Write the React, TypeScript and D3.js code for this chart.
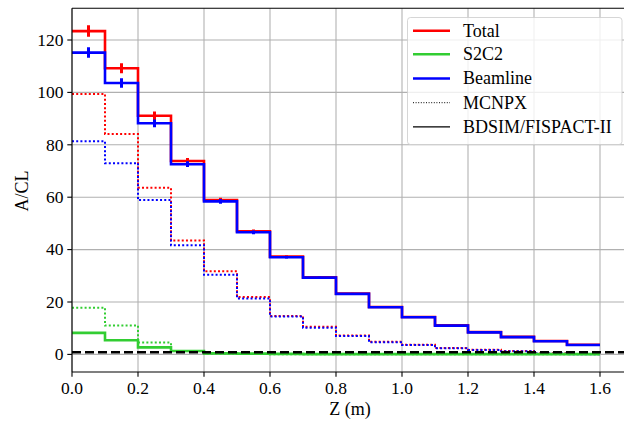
import React from "react";
import * as d3 from "d3";

const binEdges = [0, 0.1, 0.2, 0.3, 0.4, 0.5, 0.6, 0.7, 0.8, 0.9, 1.0, 1.1, 1.2, 1.3, 1.4, 1.5, 1.6];

const totalBD = [123.4, 109.2, 91.1, 73.8, 58.9, 47.0, 37.3, 29.4, 23.2, 18.1, 14.3, 11.1, 8.5, 6.7, 5.1, 3.7];
const beamBD = [115.2, 103.6, 88.2, 72.6, 58.4, 46.6, 37.1, 29.3, 23.1, 18.0, 14.2, 11.0, 8.4, 6.6, 5.0, 3.6];
const s2c2BD = [8.2, 5.4, 2.7, 1.3, 0.4, 0.3, 0.2, 0.1, 0.1, 0.1, 0.1, 0.1, 0.1, 0.1, 0.1, 0.1];

const totalErr = [2.2, 1.9, 1.6, 1.2, 0.9, 0.7, 0.5, 0.4, 0.3, 0.3, 0.2, 0.2, 0.2, 0.1, 0.1, 0.1];
const beamErr = [2.0, 1.8, 1.5, 1.1, 0.9, 0.7, 0.5, 0.4, 0.3, 0.3, 0.2, 0.2, 0.2, 0.1, 0.1, 0.1];

const totalMC = [99.4, 84.1, 63.6, 43.5, 31.7, 21.9, 14.7, 10.6, 7.2, 4.8, 3.7, 2.4, 1.8, 1.3, 0.4, 0.2];
const beamMC = [81.4, 73.0, 58.9, 41.7, 30.4, 21.3, 14.5, 10.2, 7.0, 4.6, 3.6, 2.3, 1.7, 1.2, 0.3, 0.1];
const s2c2MC = [17.8, 11.0, 4.5, 1.3, 0.3, 0.2, 0.1, 0.1, 0.1, 0.05, 0.05, 0.05, 0.05, 0.05, 0.05, 0.05];

const limitLevel = 0.8;

const xTicks = [0, 0.2, 0.4, 0.6, 0.8, 1.0, 1.2, 1.4, 1.6];
const yTicks = [0, 20, 40, 60, 80, 100, 120];

const legendLabels = ["Total", "S2C2", "Beamline", "MCNPX", "BDSIM/FISPACT-II"];

const RED = "#ff0000";
const GREEN = "#32cd32";
const BLUE = "#0000ff";
const FONT = "Liberation Serif";

export default function App() {
  const W = 624, H = 425;
  const left = 72, right = 626.4, top = 8.3, bottom = 372;
  const x = d3.scaleLinear().domain([0, 1.68]).range([left, right]);
  const y = d3.scaleLinear().domain([0, 120]).range([354.4, 40]);

  const stepPath = (vals: number[]) => {
    const pts: [number, number][] = vals.map((v, i) => [binEdges[i], v]);
    pts.push([binEdges[binEdges.length - 1], vals[vals.length - 1]]);
    return d3
      .line<[number, number]>()
      .x((d) => x(d[0]))
      .y((d) => y(d[1]))
      .curve(d3.curveStepAfter)(pts) as string;
  };

  const centers = binEdges.slice(0, -1).map((e, i) => (e + binEdges[i + 1]) / 2);
  const fmt = d3.format(".1f");

  const errBars = (vals: number[], errs: number[], color: string, key: string) =>
    vals.map((v, i) => (
      <line
        key={key + i}
        x1={x(centers[i])}
        x2={x(centers[i])}
        y1={y(v - errs[i])}
        y2={y(v + errs[i])}
        stroke={color}
        strokeWidth={3}
      />
    ));

  const legX = 407.5, legY = 17.5, legW = 214.5, legH = 127;
  const rowY = [30.7, 54.3, 78.5, 102.7, 126.8];

  return (
    <svg width={W} height={H} style={{ position: "absolute", left: 0, top: 0, background: "#fff" }}>
      <style>{`text { font-family: "Liberation Serif", "Times New Roman", serif; }`}</style>
      <defs>
        <clipPath id="plotClip">
          <rect x={left} y={top} width={right - left} height={bottom - top} />
        </clipPath>
      </defs>
      <rect x={0} y={0} width={W} height={H} fill="#fff" />
      {xTicks.map((t) => (
        <line key={"gx" + t} x1={x(t)} x2={x(t)} y1={top} y2={bottom} stroke="#b0b0b0" strokeWidth={1.07} />
      ))}
      {yTicks.map((t) => (
        <line key={"gy" + t} x1={left} x2={right} y1={y(t)} y2={y(t)} stroke="#b0b0b0" strokeWidth={1.07} />
      ))}
      <g clipPath="url(#plotClip)" fill="none">
        <path d={stepPath(totalMC)} stroke={RED} strokeWidth={2} strokeDasharray="2 2.2" />
        <path d={stepPath(s2c2MC)} stroke={GREEN} strokeWidth={2} strokeDasharray="2 2.2" />
        <path d={stepPath(beamMC)} stroke={BLUE} strokeWidth={2} strokeDasharray="2 2.2" />
        <path d={stepPath(totalBD)} stroke={RED} strokeWidth={2.6} />
        {errBars(totalBD, totalErr, RED, "te")}
        <path d={stepPath(s2c2BD)} stroke={GREEN} strokeWidth={2.6} />
        <path d={stepPath(beamBD)} stroke={BLUE} strokeWidth={2.6} />
        {errBars(beamBD, beamErr, BLUE, "be")}
        <line
          x1={left}
          x2={right}
          y1={y(limitLevel)}
          y2={y(limitLevel)}
          stroke="#000"
          strokeWidth={2.6}
          strokeDasharray="9 4"
        />
      </g>
      <line x1={left} x2={right} y1={top} y2={top} stroke="#000" strokeWidth={1.1} />
      <line x1={left} x2={right} y1={bottom} y2={bottom} stroke="#000" strokeWidth={1.1} />
      <line x1={left} x2={left} y1={top} y2={bottom} stroke="#000" strokeWidth={1.1} />
      {xTicks.map((t) => (
        <g key={"xt" + t}>
          <line x1={x(t)} x2={x(t)} y1={bottom} y2={bottom + 4.7} stroke="#000" strokeWidth={1.1} />
          <text x={x(t)} y={393.8} textAnchor="middle" fontSize={17.5} fill="#000" fontFamily={FONT}>
            {fmt(t)}
          </text>
        </g>
      ))}
      {yTicks.map((t) => (
        <g key={"yt" + t}>
          <line x1={left - 4.7} x2={left} y1={y(t)} y2={y(t)} stroke="#000" strokeWidth={1.1} />
          <text x={63.5} y={y(t) + 5.8} textAnchor="end" fontSize={17.5} fill="#000" fontFamily={FONT}>
            {t}
          </text>
        </g>
      ))}
      <text x={350} y={414.5} textAnchor="middle" fontSize={18} fill="#000" fontFamily={FONT}>
        Z (m)
      </text>
      <text
        transform={`translate(27.5, 191) rotate(-90)`}
        textAnchor="middle"
        fontSize={18}
        fill="#000"
        fontFamily={FONT}
      >
        A/CL
      </text>
      <rect
        x={legX}
        y={legY}
        width={legW}
        height={legH}
        rx={3}
        fill="#fff"
        fillOpacity={0.8}
        stroke="#cccccc"
        strokeOpacity={0.8}
        strokeWidth={1}
      />
      {legendLabels.map((lab, i) => {
        let stroke = "#000";
        let sw = 1.3;
        let dash: string | undefined = undefined;
        if (i === 0) { stroke = RED; sw = 2.6; }
        if (i === 1) { stroke = GREEN; sw = 2.6; }
        if (i === 2) { stroke = BLUE; sw = 2.6; }
        if (i === 3) { sw = 1; dash = "1 1.6"; }
        return (
          <g key={"lg" + i}>
            <line x1={413} x2={450} y1={rowY[i]} y2={rowY[i]} stroke={stroke} strokeWidth={sw} strokeDasharray={dash} />
            <text x={463} y={rowY[i] + 5.8} fontSize={18} fill="#000" fontFamily={FONT}>
              {lab}
            </text>
          </g>
        );
      })}
    </svg>
  );
}
